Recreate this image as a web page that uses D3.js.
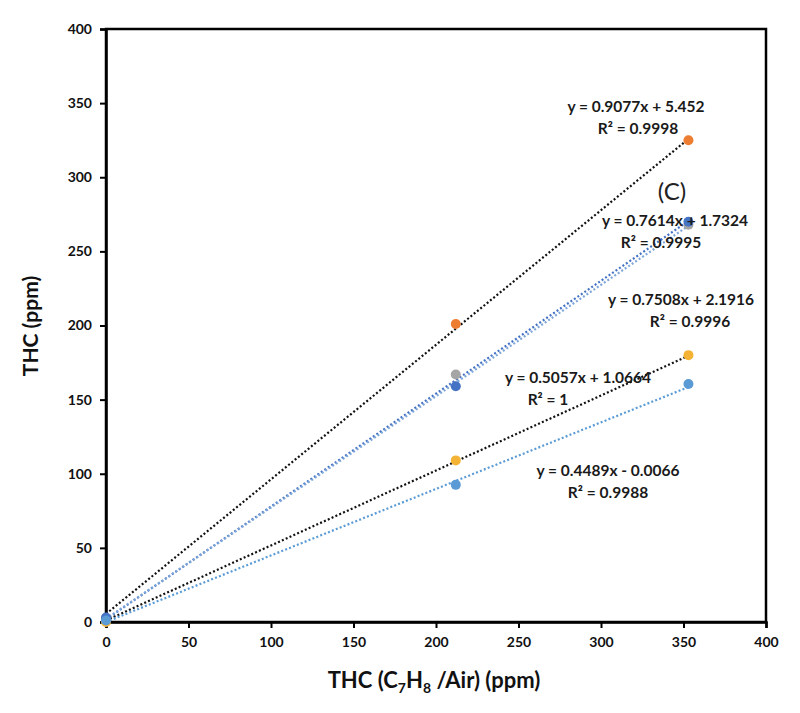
<!DOCTYPE html>
<html>
<head>
<meta charset="utf-8">
<script src="https://cdn.jsdelivr.net/npm/d3@7"></script>
<style>
  body { margin: 0; background: #fff; }
  text { font-family: Lato, "Open Sans", sans-serif; }
</style>
</head>
<body>
<svg id="chart" width="800" height="713"></svg>
<script>
// x values shared by all series (ppm C7H8/Air)
const xVals = [0, 212, 353];

const orangeVals = [2, 201, 325];
const grayVals = [2, 167, 268];
const blueVals = [3, 159, 270];
const yellowVals = [0, 109, 180];
const lightBlueVals = [1, 92.5, 160.5];

// trendlines: slope, intercept
const fits = [
	{ m: 0.9077, b: 5.452, color: "#111" },
	{ m: 0.7614, b: 1.7324, color: "#4472c4" },
	{ m: 0.7508, b: 2.1916, color: "#7ea6d8" },
	{ m: 0.5057, b: 1.0664, color: "#111" },
	{ m: 0.4489, b: -0.0066, color: "#5b9bd5" }
];

const labels = [
	{ eq: "y = 0.9077x + 5.452", r2: "R² = 0.9998", x: 636, y: 112, rx: 638 },
	{ eq: "y = 0.7614x + 1.7324", r2: "R² = 0.9995", x: 675, y: 226, rx: 661 },
	{ eq: "y = 0.7508x + 2.1916", r2: "R² = 0.9996", x: 681, y: 305, rx: 690 },
	{ eq: "y = 0.5057x + 1.0664", r2: "R² = 1", x: 578, y: 383, rx: 548 },
	{ eq: "y = 0.4489x - 0.0066", r2: "R² = 0.9988", x: 608, y: 476, rx: 608 }
];

const xTicks = [0, 50, 100, 150, 200, 250, 300, 350, 400];
const yTicks = [0, 50, 100, 150, 200, 250, 300, 350, 400];

const series = [
	{ vals: grayVals, color: "#a5a5a5" },
	{ vals: orangeVals, color: "#ed7d31" },
	{ vals: blueVals, color: "#4472c4" },
	{ vals: yellowVals, color: "#f5b335" },
	{ vals: lightBlueVals, color: "#5b9bd5" }
];

const svg = d3.select("#chart");
const mLeft = 106, mRight = 766, mTop = 29, mBottom = 622;

const x = d3.scaleLinear().domain([0, 400]).range([mLeft, mRight]);
const y = d3.scaleLinear().domain([0, 400]).range([mBottom, mTop]);

// frame
svg.append("rect")
	.attr("x", mLeft).attr("y", mTop)
	.attr("width", mRight - mLeft).attr("height", mBottom - mTop)
	.attr("fill", "none").attr("stroke", "#000").attr("stroke-width", 2.5);

const xAxis = svg.append("g")
	.attr("transform", `translate(0,${mBottom})`)
	.call(d3.axisBottom(x).tickValues(xTicks).tickSize(6).tickPadding(9));
const yAxis = svg.append("g")
	.attr("transform", `translate(${mLeft},0)`)
	.call(d3.axisLeft(y).tickValues(yTicks).tickSize(6).tickPadding(8));

[xAxis, yAxis].forEach((g) => {
	g.select(".domain").attr("stroke-width", 2.5);
	g.selectAll(".tick line").attr("stroke-width", 2);
	g.selectAll(".tick text")
		.attr("font-size", 14).attr("font-weight", "bold")
		.attr("fill", "#111")
		.style("font-family", "Lato, sans-serif");
});

// trendlines
svg.append("g").selectAll("line")
	.data(fits).enter()
	.append("line")
		.attr("x1", x(0)).attr("y1", (d) => y(d.b))
		.attr("x2", x(353)).attr("y2", (d) => y(d.m * 353 + d.b))
		.attr("stroke", (d) => d.color)
		.attr("stroke-width", 2.2)
		.attr("stroke-dasharray", "2,2.2");

// points
series.forEach((s) => {
	svg.append("g").selectAll("circle")
		.data(s.vals.map((v, i) => [xVals[i], v])).enter()
		.append("circle")
			.attr("cx", (d) => x(d[0]))
			.attr("cy", (d) => y(d[1]))
			.attr("r", 5)
			.attr("fill", s.color);
});

// equation labels
const lab = svg.append("g").attr("font-weight", "bold").attr("font-size", 15.5).attr("fill", "#1a1a1a");
labels.forEach((l) => {
	lab.append("text").attr("x", l.x).attr("y", l.y).attr("text-anchor", "middle").text(l.eq);
	lab.append("text").attr("x", l.rx).attr("y", l.y + 22).attr("text-anchor", "middle").text(l.r2);
});

svg.append("text")
	.attr("x", 672).attr("y", 200)
	.attr("text-anchor", "middle")
	.attr("font-size", 24)
	.attr("fill", "#222")
	.text("(C)");

// axis titles
const xt = svg.append("text")
	.attr("x", 434).attr("y", 688)
	.attr("text-anchor", "middle")
	.attr("font-size", 22).attr("font-weight", "bold").attr("fill", "#111");
xt.append("tspan").text("THC (C");
xt.append("tspan").attr("font-size", 14).attr("dy", 5).text("7");
xt.append("tspan").attr("dy", -5).text("H");
xt.append("tspan").attr("font-size", 14).attr("dy", 5).text("8");
xt.append("tspan").attr("dy", -5).text(" /Air) (ppm)");

svg.append("text")
	.attr("transform", "translate(38,326) rotate(-90)")
	.attr("text-anchor", "middle")
	.attr("font-size", 21).attr("font-weight", "bold").attr("fill", "#111")
	.text("THC (ppm)");
</script>
</body>
</html>
